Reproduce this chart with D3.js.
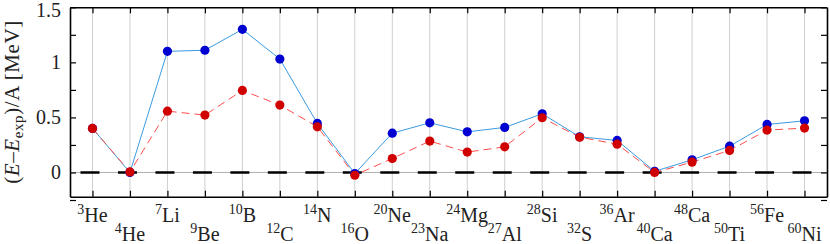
<!DOCTYPE html>
<html>
<head>
<meta charset="utf-8">
<script src="https://cdn.jsdelivr.net/npm/d3@7"></script>
<style>
  body { margin: 0; background: #fff; }
  svg text { font-family: "Liberation Serif", "DejaVu Serif", serif; fill: #222; }
  .axis path, .axis line { stroke: #000; }
  .axis text { display: none; }
</style>
</head>
<body>
<div id="chart"></div>
<script>
// nuclei along the x axis
let massNumbers = [3, 4, 7, 9, 10, 12, 14, 16, 20, 23, 24, 27, 28, 32, 36, 40, 48, 50, 56, 60];
let elements = ["He", "He", "Li", "Be", "B", "C", "N", "O", "Ne", "Na", "Mg", "Al", "Si", "S", "Ar", "Ca", "Ca", "Ti", "Fe", "Ni"];

// (E - Eexp)/A in MeV
let blueValues = [0.40, 0.00, 1.10, 1.11, 1.30, 1.03, 0.445, -0.01, 0.357, 0.451, 0.369, 0.409, 0.533, 0.324, 0.291, 0.01, 0.115, 0.239, 0.436, 0.469];
let redValues = [0.40, 0.005, 0.557, 0.521, 0.745, 0.612, 0.415, -0.025, 0.127, 0.285, 0.185, 0.233, 0.497, 0.32, 0.257, 0.0, 0.094, 0.20, 0.385, 0.403];

let yTickValues = [-0.25, 0, 0.25, 0.5, 0.75, 1, 1.25, 1.5];
let yTickLabels = ["0", "0.5", "1", "1.5"];

let width = 830, height = 244;
let plotLeft = 70, plotRight = 827, plotTop = 7.3, plotBottom = 196.7;

let svg = d3.select("#chart").append("svg")
  .attr("width", width)
  .attr("height", height)
  .attr("font-family", "Liberation Serif, DejaVu Serif, serif");

let idx = d3.range(massNumbers.length);

let xScale = d3.scaleLinear()
  .domain([-0.6, massNumbers.length - 0.4])
  .range([plotLeft, plotRight]);

let yScale = d3.scaleLinear()
  .domain([-0.22, 1.5])
  .range([plotBottom, plotTop]);

// vertical grid
svg.append("g").selectAll("line").data(idx).enter().append("line")
  .attr("x1", d => xScale(d)).attr("x2", d => xScale(d))
  .attr("y1", plotTop).attr("y2", plotBottom)
  .attr("stroke", "#cfcfcf").attr("stroke-width", 1);

// zero line: thin grey + thick dashes
svg.append("line")
  .attr("x1", plotLeft).attr("x2", plotRight)
  .attr("y1", yScale(0)).attr("y2", yScale(0))
  .attr("stroke", "#b0b0b0").attr("stroke-width", 1);

svg.append("line")
  .attr("x1", xScale(0) - 12).attr("x2", plotRight - 2)
  .attr("y1", yScale(0)).attr("y2", yScale(0))
  .attr("stroke", "#000").attr("stroke-width", 2.6)
  .attr("stroke-dasharray", "19," + (xScale(1) - xScale(0) - 19));

// lines
let valueline = d3.line()
  .x((d, i) => xScale(i))
  .y(d => yScale(d));

svg.append("path")
  .attr("d", valueline(blueValues))
  .attr("fill", "none")
  .attr("stroke", "#3b9be0")
  .attr("stroke-width", 1);

svg.append("path")
  .attr("d", valueline(redValues))
  .attr("fill", "none")
  .attr("stroke", "#ff4d4d")
  .attr("stroke-width", 1)
  .attr("stroke-dasharray", "8,5");

svg.append("g").selectAll("circle").data(blueValues).enter().append("circle")
  .attr("cx", (d, i) => xScale(i))
  .attr("cy", d => yScale(d))
  .attr("r", 4.6)
  .attr("fill", "#0000d0");

svg.append("g").selectAll("circle").data(redValues).enter().append("circle")
  .attr("cx", (d, i) => xScale(i))
  .attr("cy", d => yScale(d))
  .attr("r", 4.6)
  .attr("fill", "#d00000");

// frame axes with inward ticks
svg.append("g").attr("class", "axis")
  .attr("transform", "translate(0," + plotBottom + ")")
  .call(d3.axisBottom(xScale).tickValues(idx).tickSize(-6).tickSizeOuter(0));
svg.append("g").attr("class", "axis")
  .attr("transform", "translate(0," + plotTop + ")")
  .call(d3.axisTop(xScale).tickValues(idx).tickSize(-6).tickSizeOuter(0));
svg.append("g").attr("class", "axis")
  .attr("transform", "translate(" + plotLeft + ",0)")
  .call(d3.axisLeft(yScale).tickValues(yTickValues).tickSize(-6).tickSizeOuter(0));
svg.append("g").attr("class", "axis")
  .attr("transform", "translate(" + plotRight + ",0)")
  .call(d3.axisRight(yScale).tickValues(yTickValues).tickSize(-6).tickSizeOuter(0));

svg.selectAll(".axis path").attr("stroke-width", 1.6);
svg.selectAll(".axis line").attr("stroke-width", 1.2);

// y tick labels
svg.append("g").selectAll("text").data(yTickLabels).enter().append("text")
  .attr("x", 61)
  .attr("y", d => Math.max(yScale(+d), 10.5))
  .attr("dy", "0.34em")
  .attr("text-anchor", "end")
  .style("font-size", "20px")
  .text(d => d);

// x labels, alternating rows
let xLabels = svg.append("g").selectAll("text").data(idx).enter().append("text")
  .attr("x", d => xScale(d))
  .attr("y", d => d % 2 == 0 ? 222 : 240.5)
  .attr("text-anchor", "middle")
  .style("font-size", "20px");

xLabels.append("tspan")
  .style("font-size", "14px")
  .attr("dy", -8)
  .text(d => massNumbers[d]);
xLabels.append("tspan")
  .attr("dy", 8)
  .text(d => elements[d]);

// y axis title
let yTitle = svg.append("text")
  .attr("transform", "translate(19," + ((plotTop + plotBottom) / 2) + ") rotate(-90)")
  .attr("text-anchor", "middle")
  .style("font-size", "21px")
  .style("letter-spacing", "0.6px");

yTitle.append("tspan").text("(");
yTitle.append("tspan").style("font-style", "italic").text("E");
yTitle.append("tspan").text("\u2013");
yTitle.append("tspan").style("font-style", "italic").text("E");
yTitle.append("tspan").style("font-size", "15px").attr("dy", 4).text("exp");
yTitle.append("tspan").attr("dy", -4).text(")/A [MeV]");
</script>
</body>
</html>
